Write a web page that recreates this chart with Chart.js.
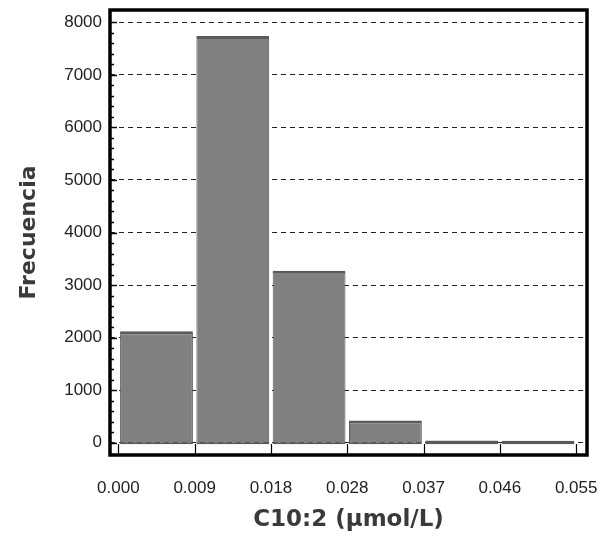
<!DOCTYPE html>
<html>
<head>
<meta charset="utf-8">
<script src="https://cdn.jsdelivr.net/npm/chart.js@4.4.1/dist/chart.umd.min.js"></script>
<style>
  html, body { margin: 0; padding: 0; background: #fff; }
  #wrap { position: relative; width: 610px; height: 538px; }
</style>
</head>
<body>
<div id="wrap"><canvas id="chart" width="610" height="538"></canvas></div>
<script>
// histogram bins (edges on the x axis) and counts
const binEdges = [0, 0.00917, 0.01833, 0.0275, 0.03667, 0.04583, 0.055];
const edgeLabels = ["0.000", "0.009", "0.018", "0.028", "0.037", "0.046", "0.055"];
const frequencies = [2120, 7740, 3270, 420, 40, 35];
const yTickValues = [0, 1000, 2000, 3000, 4000, 5000, 6000, 7000, 8000];

const points = frequencies.map((f, i) => ({x: (binEdges[i] + binEdges[i + 1]) / 2, y: f}));

// frame + inward tick marks
const framePlugin = {
  id: "frame",
  afterDatasetsDraw(chart) {
    const {ctx, chartArea: a, scales} = chart;
    ctx.save();
    ctx.strokeStyle = "#000";
    ctx.lineWidth = 1.5;
    // minor / major ticks on y
    for (let v = 0; v <= 8000; v += 200) {
      const y = Math.round(scales.y.getPixelForValue(v)) + 0.5;
      const len = v % 1000 === 0 ? 7 : 4;
      ctx.beginPath();
      ctx.moveTo(a.left, y);
      ctx.lineTo(a.left + len, y);
      ctx.stroke();
    }
    // ticks on x at bin edges
    ctx.lineWidth = 1.2;
    binEdges.forEach(v => {
      const x = Math.round(scales.x.getPixelForValue(v)) + 0.5;
      ctx.beginPath();
      ctx.moveTo(x, a.bottom);
      ctx.lineTo(x, a.bottom - 11);
      ctx.stroke();
    });
    ctx.lineWidth = 3.5;
    ctx.strokeRect(a.left, a.top, a.right - a.left, a.bottom - a.top);
    ctx.restore();
  }
};

new Chart(document.getElementById("chart").getContext("2d"), {
  type: "bar",
  data: {
    datasets: [{
      data: points,
      backgroundColor: "#808080",
      borderColor: "#5a5a5a",
      borderWidth: {top: 3, bottom: 2, left: 1, right: 1},
      borderSkipped: false,
      base: -30,
      categoryPercentage: 1,
      barPercentage: 0.955
    }]
  },
  options: {
    responsive: false,
    animation: false,
    layout: {padding: {top: 10, right: 23, left: 0, bottom: 0}},
    plugins: {legend: {display: false}, tooltip: {enabled: false}},
    scales: {
      x: {
        type: "linear",
        offset: false,
        min: -0.001,
        max: 0.0563,
        afterBuildTicks: s => { s.ticks = binEdges.map(v => ({value: v})); },
        afterFit: s => { s.height = 83; s.paddingLeft = 0; s.paddingRight = 0; },
        grid: {display: false, offset: false, drawTicks: false},
        border: {display: false},
        ticks: {
          autoSkip: false,
          maxRotation: 0,
          padding: 23,
          color: "#222",
          font: {family: "'Liberation Sans', Arial", size: 17},
          callback: (v, i) => edgeLabels[i]
        },
        title: {
          display: true,
          text: "C10:2 (µmol/L)",
          color: "#3a3a3a",
          font: {family: "'DejaVu Sans'", size: 23, weight: "bold"},
          padding: {top: 0, bottom: 4}
        }
      },
      y: {
        min: -235,
        max: 8235,
        afterBuildTicks: s => { s.ticks = yTickValues.map(v => ({value: v})); },
        afterFit: s => { s.width = 110; s.paddingTop = 0; s.paddingBottom = 0; },
        grid: {color: "#222", lineWidth: 1, drawTicks: false},
        border: {display: false, dash: [5, 4]},
        ticks: {
          padding: 8,
          color: "#222",
          font: {family: "'Liberation Sans', Arial", size: 17},
          callback: v => String(v)
        },
        title: {
          display: true,
          text: "Frecuencia",
          color: "#3a3a3a",
          font: {family: "'DejaVu Sans'", size: 22, weight: "bold"},
          padding: {top: 16, bottom: 0}
        }
      }
    }
  },
  plugins: [framePlugin]
});
</script>
</body>
</html>
